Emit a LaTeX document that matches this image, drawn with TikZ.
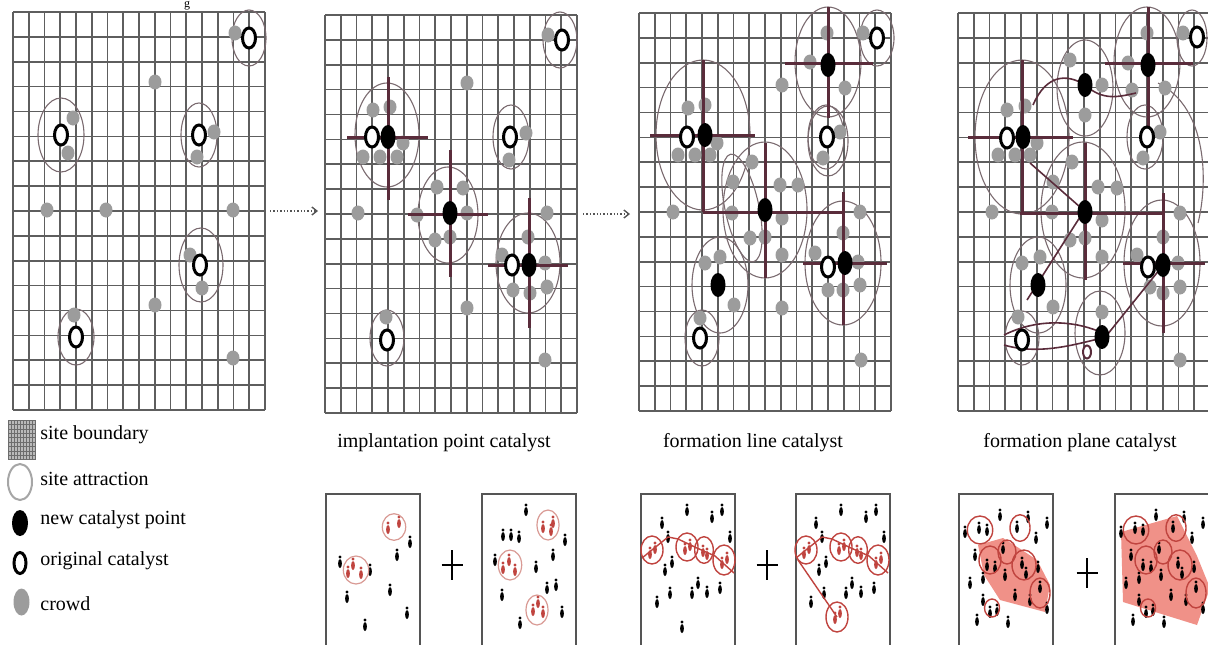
\documentclass[tikz,border=0pt]{standalone}
\usepackage{fontspec}
\setmainfont{Liberation Serif}
\usetikzlibrary{positioning, arrows.meta}

\definecolor{gridcol}{HTML}{5E5E5E}
\definecolor{attractcol}{HTML}{7A6A6F}
\definecolor{crosscol}{HTML}{5A2C3B}
\definecolor{crowdcol}{HTML}{9C9C9C}
\definecolor{flowcol}{HTML}{555555}
\definecolor{boxcol}{HTML}{555555}
\definecolor{redcol}{HTML}{C0443F}
\definecolor{pinkcol}{HTML}{D99A94}
\definecolor{planecol}{HTML}{EE7E74}

\newcommand{\sitegrid}{%
  \foreach \i in {0,...,16} \draw[gridline] ({\i*15.75},0) -- ({\i*15.75},398);
  \foreach \j in {0,...,16} \draw[gridline] (0,{\j*24.875}) -- (252,{\j*24.875});}
\newcommand{\attrset}[1]{\foreach \x/\y/\rx/\ry in {#1} \draw[attract] (\x,\y) ellipse [x radius=\rx, y radius=\ry];}
\newcommand{\crowdset}[1]{\foreach \x/\y in {#1} \fill[crowd] (\x,\y) ellipse [x radius=6.5, y radius=7.5];}
\newcommand{\crossset}[1]{\foreach \xa/\ya/\xb/\yb in {#1} \draw[crossline] (\xa,\ya) -- (\xb,\yb);}
\newcommand{\newset}[1]{\foreach \x/\y in {#1} \fill[black] (\x,\y) ellipse [x radius=7.5, y radius=12];}
\newcommand{\origset}[1]{\foreach \x/\y in {#1} \draw[origpt] (\x,\y) ellipse [x radius=6.5, y radius=10];}
\newcommand{\people}[2]{\foreach \x/\y in {#2} {\fill[#1] (\x,\y+1.5) ellipse [x radius=1.9, y radius=4.5]; \fill[#1] (\x,\y-5) circle [radius=1.7];}}
\newcommand{\ringset}[2]{\foreach \x/\y/\rx/\ry in {#2} \draw[#1] (\x,\y) ellipse [x radius=\rx, y radius=\ry];}

\begin{document}
\begin{tikzpicture}[
    x=0.5pt, y=-0.5pt,
    font=\fontsize{10}{12}\selectfont,
    gridline/.style={draw=gridcol, line width=0.8pt},
    panel/.style={minimum width=126pt, minimum height=199pt, inner sep=0pt, outer sep=0pt},
    attract/.style={draw=attractcol, line width=0.55pt},
    crossline/.style={draw=crosscol, line width=1.5pt},
    linkline/.style={draw=crosscol, line width=0.8pt},
    crowd/.style={fill=crowdcol},
    origpt/.style={draw=black, line width=1.5pt, fill=white},
    flow/.style={densely dotted, draw=flowcol, line width=0.7pt, -{Straight Barb[length=2.5pt, width=4pt]}},
    caption/.style={inner sep=0pt},
    legtext/.style={anchor=west, inner sep=0pt},
    smallbox/.style={draw=boxcol, line width=1pt, fill=white, minimum width=47pt, minimum height=78pt, inner sep=0pt},
    redring/.style={draw=redcol, line width=0.7pt},
    pinkring/.style={draw=pinkcol, line width=0.6pt},
    plane/.style={fill=planecol, fill opacity=0.85},
    plus/.style={draw=black, line width=1.4pt}
]
    \useasboundingbox (0,0) rectangle (1208,644);
    \clip (0,0) rectangle (1208,644);

    \node[anchor=north, inner sep=0pt, font=\fontsize{6}{7}\selectfont] (cut) at (187,0.5) {g};

    \node[panel] (p1) at (139,211) {};
    \node[panel] (p2) at (451,214) {};
    \node[panel] (p3) at (765,212) {};
    \node[panel] (p4) at (1084,212) {};

    \begin{scope}[shift={(p1.north west)}]
        \sitegrid
        \attrset{236/26/17/28, 48/123/23/37, 186/123/18/32, 188/253/22/37, 63/325/18/28}
        \crowdset{142/70, 34/198, 93/198, 220/198, 142/293, 220/346, 222/21, 60/106, 55/141, 201/120, 184/145, 177/243, 189/276, 61/303}
        \origset{236/26, 48/123, 186/123, 187/253, 63/325}
    \end{scope}

    \begin{scope}[shift={(p2.north west)}]
        \sitegrid
        \attrset{235/25/17/28, 62/120/32/52, 123/200/30/48, 203/248/32/50, 186/122/18/32, 62/323/17/28}
        \crowdset{223/20, 142/68, 48/95, 65/92, 78/128, 38/142, 55/142, 72/142, 201/118, 184/145, 33/198, 112/172, 138/173, 92/200, 142/198, 110/225, 125/222, 222/198, 203/222, 177/240, 220/248, 188/275, 205/278, 222/272, 61/302, 142/293, 220/345}
        \crossset{22/122/103/122, 63/62/63/185, 83/199/163/199, 125/135/125/262, 163/250/243/250, 204/183/204/313}
        \newset{63/122, 125/198, 204/250}
        \origset{237/25, 47/122, 185/122, 187/250, 62/325}
    \end{scope}

    \begin{scope}[shift={(p3.north west)}]
        \sitegrid
        \attrset{64/122/47/75, 126/197/42/68, 81/272/28/48, 63/325/17/28, 204/250/38/62, 189/49/33/55, 238/25/17/28, 187/124/18/32, 189/128/20/35}
        \draw[attract, rotate around={12:(103,195)}] (103,195) ellipse [x radius=17, y radius=55];
        \crowdset{49/95, 66/92, 78/130, 39/142, 56/142, 71/142, 113/149, 94/169, 141/172, 159/172, 93/200, 143/205, 111/225, 126/224, 143/242, 34/199, 66/250, 81/244, 95/292, 61/305, 221/199, 204/220, 176/240, 219/249, 189/277, 204/277, 221/272, 188/20, 171/49, 206/75, 143/72, 224/20, 201/119, 184/145, 143/295, 222/347}
        \crossset{11/122/116/122, 64/47/64/199, 64/199/204/199, 126/130/126/265, 164/250/248/250, 204/179/204/312, 189/-6/189/105, 146/50/234/50}
        \newset{66/122, 126/197, 79/272, 206/250, 189/52}
        \origset{48/124, 188/124, 238/25, 61/325, 189/254}
    \end{scope}

    \begin{scope}[shift={(p4.north west)}]
        \sitegrid
        \attrset{64/124/47/77, 127/75/28/48, 189/49/33/55, 234/25/15/28, 187/124/18/32, 125/197/42/68, 80/272/28/48, 64/325/17/27, 142/320/25/42, 204/250/38/63}
        \draw[attract] (200,70) .. controls (250,95) and (250,170) .. (240,210);
        \crowdset{49/97, 67/93, 79/130, 40/142, 57/142, 72/142, 112/47, 144/72, 127/102, 189/20, 170/50, 174/77, 207/75, 225/20, 202/119, 185/145, 114/149, 95/169, 140/174, 159/175, 94/199, 144/207, 112/227, 127/225, 144/244, 34/199, 64/250, 82/244, 95/294, 60/304, 144/299, 222/200, 205/224, 179/242, 220/250, 192/274, 205/280, 222/274, 222/347}
        \draw[linkline] (75,92) .. controls (88,62) and (108,60) .. (127,72);
        \draw[linkline] (127,72) .. controls (145,88) and (160,84) .. (178,80);
        \draw[linkline] (72,150) -- (122,194);
        \draw[linkline] (122,204) -- (69,287);
        \draw[linkline] (46,322) .. controls (80,305) and (115,308) .. (140,318);
        \draw[linkline] (46,332) .. controls (80,342) and (115,332) .. (140,326);
        \draw[linkline] (149,322) -- (202,256);
        \crossset{10/124/115/124, 64/47/64/200, 62/200/204/200, 127/130/127/267, 165/250/247/250, 205/180/205/320, 190/-6/190/127, 147/50/235/50}
        \newset{65/124, 127/72, 190/52, 127/199, 80/272, 144/324, 205/252}
        \origset{49/125, 189/124, 239/24, 64/327, 190/254}
        \draw[crosscol, line width=1pt, fill=white] (129,339) ellipse [x radius=4, y radius=6.5];
    \end{scope}

    \draw[flow, shorten <=2.5pt, shorten >=3.5pt] (p1.east) -- (p1.east -| p2.west);
    \draw[flow, shorten <=3pt, shorten >=4.5pt] (p2.east) -- (p2.east -| p3.west);

    \node[caption] (c2) at (444,443) {implantation point catalyst};
    \node[caption] (c3) at (753,443) {formation line catalyst};
    \node[caption] (c4) at (1080,443) {formation plane catalyst};

    \fill[gray!55] (8,420) rectangle (35,460);
    \foreach \k in {0,...,9} {
        \draw[gray!85!black, line width=0.25pt] ({8+\k*3},420) -- ({8+\k*3},460);
        \draw[gray!85!black, line width=0.25pt] (8,{420+\k*4.4}) -- (35,{420+\k*4.4});
    }
    \draw[gray!70, line width=1pt] (20,482) ellipse [x radius=12, y radius=18];
    \fill[black] (20,523) ellipse [x radius=8, y radius=13];
    \draw[origpt] (20,563) ellipse [x radius=6, y radius=10.5];
    \fill[crowd] (21.5,602) ellipse [x radius=8, y radius=13.5];
    \node[legtext] (l1) at (40,435) {site boundary};
    \node[legtext] (l2) at (40,479) {site attraction};
    \node[legtext] (l3) at (40,520) {new catalyst point};
    \node[legtext] (l4) at (40,561) {original catalyst};
    \node[legtext] (l5) at (40,604) {crowd};

    \node[smallbox] (a1) at (373,572) {};
    \node[smallbox] (a2) at (529,572) {};
    \node[smallbox] (b1) at (688,572) {};
    \node[smallbox] (b2) at (843,572) {};
    \node[smallbox] (c1) at (1006,572) {};
    \node[smallbox] (cc2) at (1162,572) {};

    \draw[plus] (441.5,565) -- (462.5,565) (452,550) -- (452,580);
    \draw[plus] (756.5,565) -- (777.5,565) (767,550) -- (767,580);
    \draw[plus] (1076.5,573) -- (1097.5,573) (1087,558) -- (1087,588);

    % implantation point
    \people{black}{340/562, 370/570, 347/597, 397/555, 410/542, 390/590, 407/613, 365/625}
    \people{redcol}{388/528, 399/522, 348/572, 353/564, 361/573}
    \ringset{pinkring}{394/527/11.7/13.3, 356/570/12.7/14}
    \people{black}{526/510, 503/535, 511/535, 519/537, 495/560, 565/540, 553/555, 536/567, 547/588, 556/585, 502/595, 562/612, 520/623}
    \people{redcol}{543/527, 553/522, 551/530, 503/568, 509/560, 515/570, 533/610, 538/602, 543/612}
    \ringset{pinkring}{548/525/11/15, 510/565/11.7/15, 537/610/11/15}

    % formation line
    \foreach \dx in {0,154} {
        \begin{scope}[xshift=\dx*0.5pt]
            \people{black}{687/510, 712/517, 722/510, 662/523, 668/537, 730/537, 672/562, 665/570, 698/583, 692/593, 707/592, 720/588, 670/593, 657/602}
            \people{redcol}{650/553, 655/548, 685/549, 690/545, 703/551, 707/554, 722/563, 727/558}
            \ringset{redring}{652/550/11/14, 687/547/11/14, 704/550/9.3/13.3, 724/560/11/15}
            \draw[redring] (642,558) -- (668,537) -- (678,539) -- (697,548) -- (715,556) -- (734,573);
        \end{scope}
    }
    \people{black}{682/627}
    \people{redcol}{835/618, 840/612}
    \draw[redring] (798,560) -- (837,617);
    \draw[redring] (837,617) ellipse [x radius=11, y radius=15];

    % formation plane
    \fill[plane] (978,545) -- (1003,538) -- (1022,550) -- (1037,560) -- (1050,585) -- (1045,612) -- (1000,600) -- (984,575) -- cycle;
    \fill[plane] (1121,532) -- (1177,516) -- (1197,556) -- (1210,588) -- (1197,625) -- (1123,602) -- cycle;
    \foreach \dx in {0,156} {
        \begin{scope}[xshift=\dx*0.5pt]
            \people{black}{965/532, 979/528, 987/530, 1000/515, 1017/527, 1028/517, 1047/523, 1036/538, 1003/548, 975/555, 970/583, 987/565, 995/567, 983/578, 1005/575, 1022/563, 1026/573, 1038/567, 1015/595, 1030/600, 1040/587, 983/600, 977/620, 1008/622, 1047/608, 990/612, 997/610}
            \ringset{redring}{980/530/12.7/14, 1020/528/10/13.3, 990/560/11/14, 1007/552/9/12, 1024/565/12/15, 1040/593/10/15, 992/608/7.5/9}
        \end{scope}
    }
\end{tikzpicture}
\end{document}
